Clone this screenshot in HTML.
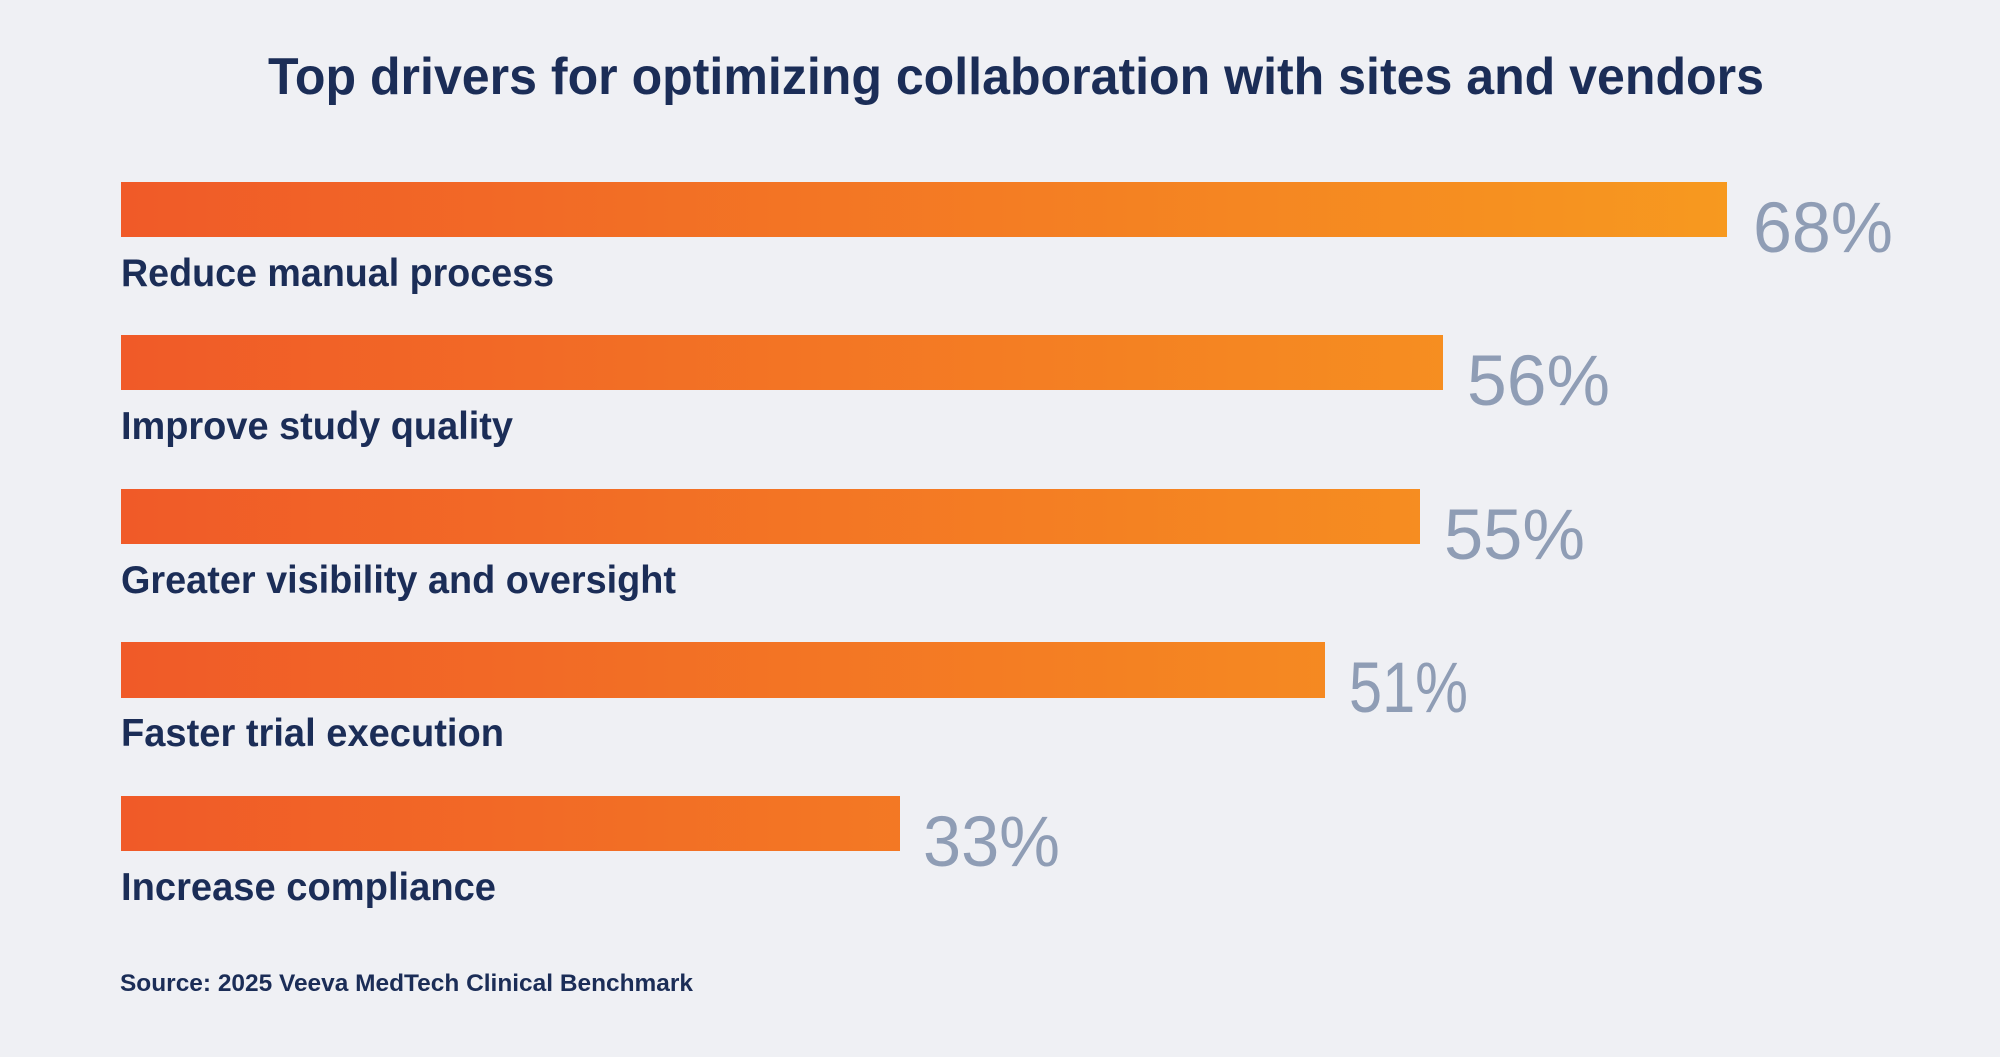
<!DOCTYPE html>
<html><head><style>html,body{margin:0;padding:0;background:#eff0f4;}</style></head>
<body>
<svg width="2000" height="1057" viewBox="0 0 2000 1057" xmlns="http://www.w3.org/2000/svg" style="display:block">
<defs>
<linearGradient id="g" gradientUnits="userSpaceOnUse" x1="121" y1="0" x2="1727" y2="0">
<stop offset="0" stop-color="#f05a28"/><stop offset="1" stop-color="#f7991f"/>
</linearGradient>
</defs>
<rect width="2000" height="1057" fill="#eff0f4"/>
<g font-family="Liberation Sans, sans-serif" font-weight="bold" fill="#1b2d57">
<text x="268" y="94" font-size="52" textLength="1496" lengthAdjust="spacingAndGlyphs">Top drivers for optimizing collaboration with sites and vendors</text>
<text x="121" y="286" font-size="39" textLength="433" lengthAdjust="spacingAndGlyphs">Reduce manual process</text>
<text x="121" y="439" font-size="39" textLength="392" lengthAdjust="spacingAndGlyphs">Improve study quality</text>
<text x="121" y="593" font-size="39" textLength="555" lengthAdjust="spacingAndGlyphs">Greater visibility and oversight</text>
<text x="121" y="746" font-size="39" textLength="383" lengthAdjust="spacingAndGlyphs">Faster trial execution</text>
<text x="121" y="900" font-size="39" textLength="375" lengthAdjust="spacingAndGlyphs">Increase compliance</text>
<text x="120" y="991" font-size="24" textLength="573" lengthAdjust="spacingAndGlyphs">Source: 2025 Veeva MedTech Clinical Benchmark</text>
</g>
<rect x="121" y="182" width="1606" height="55" fill="url(#g)"/>
<rect x="121" y="335" width="1322" height="55" fill="url(#g)"/>
<rect x="121" y="489" width="1299" height="55" fill="url(#g)"/>
<rect x="121" y="642" width="1204" height="56" fill="url(#g)"/>
<rect x="121" y="796" width="779" height="55" fill="url(#g)"/>
<g font-family="Liberation Sans, sans-serif" font-size="71" fill="#8f9db5">
<text x="1753" y="252" textLength="140" lengthAdjust="spacingAndGlyphs">68%</text>
<text x="1467" y="405" textLength="143" lengthAdjust="spacingAndGlyphs">56%</text>
<text x="1444" y="559" textLength="141" lengthAdjust="spacingAndGlyphs">55%</text>
<text x="1349" y="712" textLength="119" lengthAdjust="spacingAndGlyphs">51%</text>
<text x="923" y="866" textLength="137" lengthAdjust="spacingAndGlyphs">33%</text>
</g>
</svg>
</body></html>
